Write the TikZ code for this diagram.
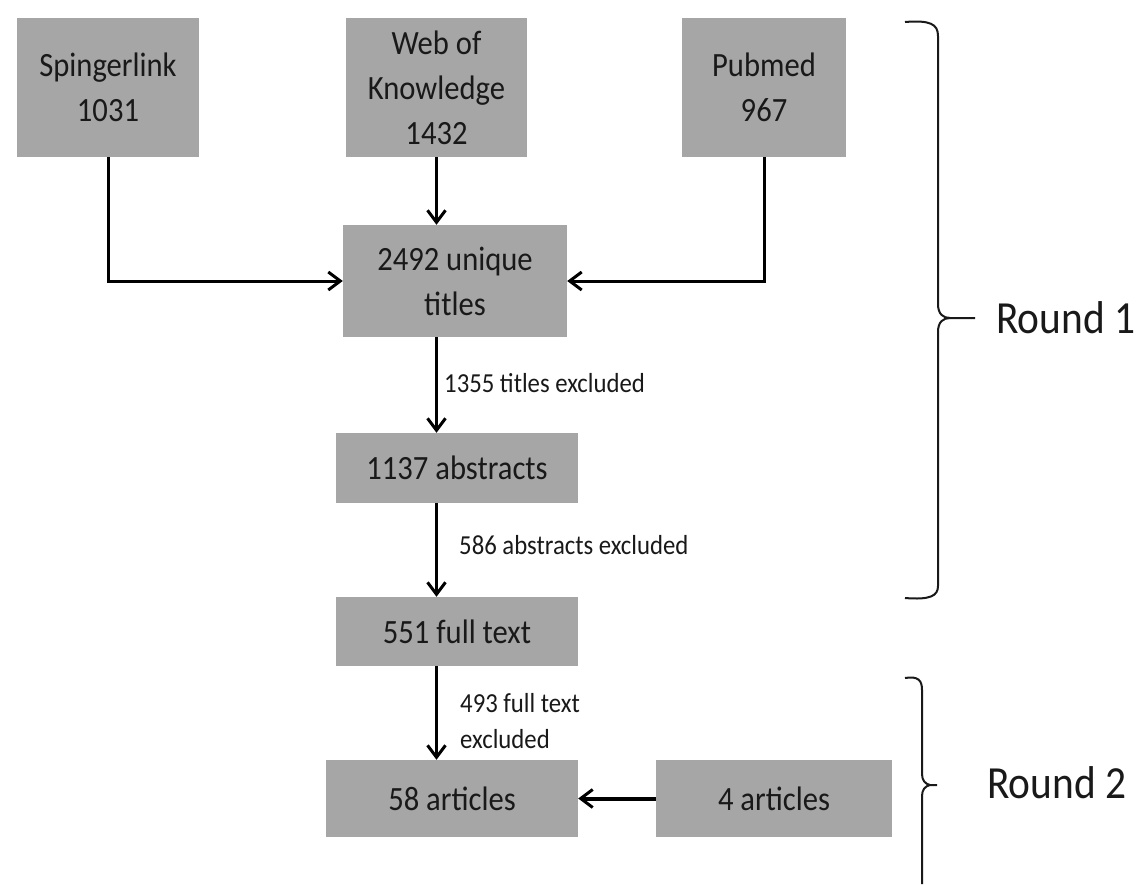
\documentclass[tikz,border=0pt]{standalone}
\usepackage{fontspec}
\setmainfont{Carlito}[FakeStretch=0.9]
\usetikzlibrary{arrows.meta}
\definecolor{boxgray}{RGB}{166,166,166}
\definecolor{txt}{RGB}{25,25,25}
\begin{document}
\begin{tikzpicture}[x=1pt,y=-1pt,
  box/.style={draw=none, fill=boxgray, text=txt, inner sep=0pt, align=center, font=\fontsize{34}{45}\selectfont},
  lab/.style={text=txt, inner sep=0pt, align=left, anchor=west, font=\fontsize{27.5}{36}\selectfont},
  conn/.style={line width=3pt, -{Straight Barb[length=12pt,width=18pt,line width=3pt]}},
  bracepath/.style={line width=2pt, draw=txt},
  roundlab/.style={text=txt, inner sep=0pt, anchor=west, font=\fontsize{46}{50}\selectfont}
]
\fill[white] (0,0) rectangle (1142,884);
\useasboundingbox (0,0) rectangle (1142,884);

\node[box, minimum width=182pt, minimum height=139pt] (spr) at (108,87.5) {Spingerlink\\1031};
\node[box, minimum width=181pt, minimum height=139pt] (wok) at (436.5,87.5) {Web of\\Knowledge\\1432};
\node[box, minimum width=164pt, minimum height=139pt] (pub) at (764,87.5) {Pubmed\\967};
\node[box, minimum width=224pt, minimum height=112pt] (uniq) at (455,281) {2492 unique\\titles};
\node[box, minimum width=242pt, minimum height=70pt] (abs) at (457,468) {1137 abstracts};
\node[box, minimum width=242pt, minimum height=69pt] (full) at (457,631.5) {551 full text};
\node[box, minimum width=252pt, minimum height=77pt] (art58) at (452,798.5) {58 articles};
\node[box, minimum width=236pt, minimum height=77pt] (art4) at (774,798.5) {4 articles};

\draw[conn] (spr.south) |- (uniq.west);
\draw[conn] (pub.south) |- (uniq.east);
\draw[conn] (wok.south) -- (wok.south |- uniq.north);
\draw[conn] (uniq.south -| wok.south) -- (abs.north -| wok.south);
\draw[conn] (abs.south -| wok.south) -- (full.north -| wok.south);
\draw[conn] (full.south -| wok.south) -- (art58.north -| wok.south);
\draw[conn, line width=4pt] (art4.west) -- (art58.east);

\node[lab] (l1) at (444,383) {1355 titles excluded};
\node[lab] (l2) at (459,545) {586 abstracts excluded};
\node[lab] (l3) at (460,721) {493 full text\\excluded};

\draw[bracepath] (905,22) .. controls (930,20) and (938,24) .. (938,36) -- (938,304)
  .. controls (938,314) and (943,318) .. (950,318) -- (975,318);
\draw[bracepath] (950,318) .. controls (943,318) and (938,322) .. (938,332) -- (938,586)
  .. controls (938,596) and (930,600) .. (905,598);
\node[roundlab] (r1) at (996,318) {Round 1};

\draw[bracepath] (905,678) .. controls (918,676) and (922,680) .. (922,690) -- (922,774)
  .. controls (922,780) and (925,784) .. (930,785) -- (937,785);
\draw[bracepath] (930,785) .. controls (925,786) and (922,790) .. (922,796) -- (922,884);
\node[roundlab] (r2) at (987,783) {Round 2};
\end{tikzpicture}
\end{document}
